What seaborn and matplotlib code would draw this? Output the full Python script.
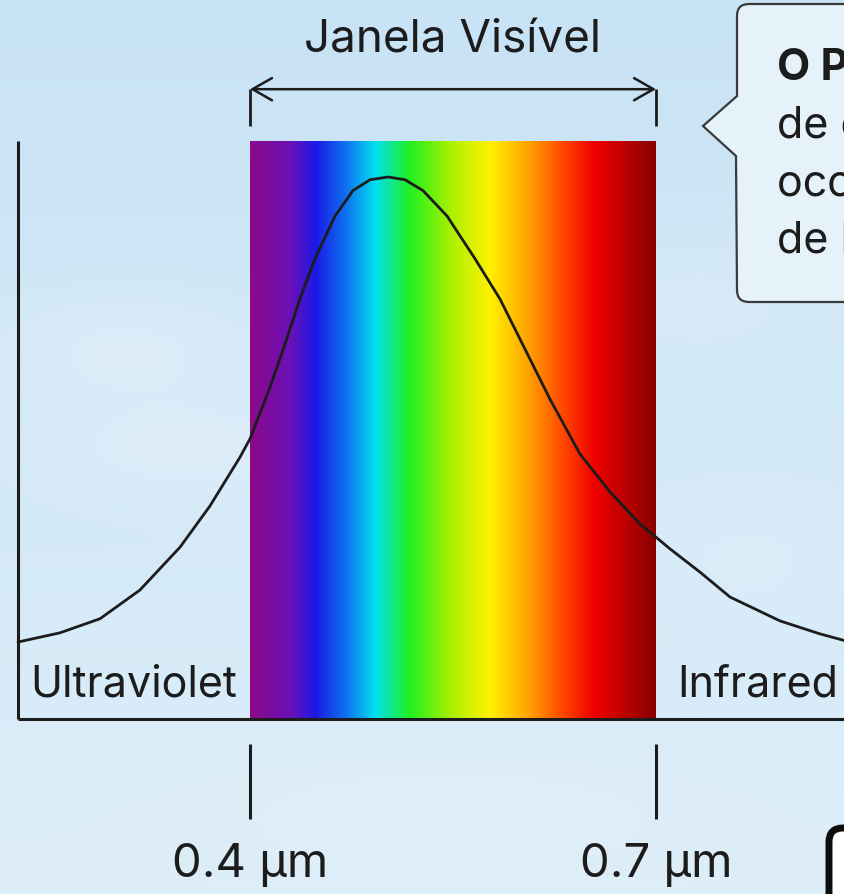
import numpy as np
import matplotlib
matplotlib.use("Agg")
import matplotlib.pyplot as plt
import seaborn as sns
from matplotlib.colors import LinearSegmentedColormap, to_rgb
from matplotlib.patches import PathPatch, FancyBboxPatch
from matplotlib.path import Path

# --- data ---
wavelength_um = [0.2286, 0.2596, 0.2892, 0.3187, 0.3483, 0.3704, 0.3926, 0.4000,
                 0.4148, 0.4259, 0.4369, 0.4480, 0.4628, 0.4761, 0.4887, 0.5020,
                 0.5145, 0.5278, 0.5456, 0.5663, 0.5847, 0.5995, 0.6217, 0.6438,
                 0.6660, 0.6882, 0.7103, 0.7325, 0.7547, 0.7916, 0.8212, 0.8434]
intensity = [0.142, 0.159, 0.185, 0.238, 0.317, 0.393, 0.483, 0.517,
             0.612, 0.692, 0.775, 0.849, 0.928, 0.975, 0.995, 1.000,
             0.995, 0.975, 0.928, 0.849, 0.775, 0.701, 0.590, 0.489,
             0.419, 0.360, 0.314, 0.271, 0.225, 0.181, 0.157, 0.142]

band_edges_um = [0.4, 0.7]
band_labels = ["0.4 µm", "0.7 µm"]
region_labels = ["Ultraviolet", "Infrared"]
window_title = "Janela Visível"
callout_lines = ["O Pico", "de emissão solar", "ocorre na faixa", "de luz visível"]

spectrum_stops_um = [0.400, 0.4296, 0.448, 0.470, 0.4924, 0.518, 0.5478, 0.5773,
                     0.6069, 0.6328, 0.655, 0.700]
spectrum_colors = ["#8a0a8a", "#6a10b8", "#1a1ae6", "#1070f0", "#00e0f0", "#20f020",
                   "#a8f000", "#fff200", "#ffa000", "#ff4400", "#f00000", "#8a0000"]

# --- style ---
sns.set_style("white")
plt.rcParams['font.family'] = ['Inter', 'DejaVu Sans']
ink = "#1c1c1c"

fig = plt.figure(figsize=(8.45, 8.95), dpi=100)

# sky background
bg = fig.add_axes([0, 0, 1, 1])
h, w = 180, 170
yy, xx = np.mgrid[0:h, 0:w]
top = np.array(to_rgb("#c8e3f5"))
bot = np.array(to_rgb("#ddeef9"))
t = (yy / (h - 1))[..., None]
sky = top * (1 - t) + bot * t
clouds = np.zeros((h, w))
for cx, cy, sx, sy, a in [(25, 70, 30, 12, 0.55), (40, 90, 35, 10, 0.5),
                          (140, 60, 30, 14, 0.35), (150, 110, 25, 15, 0.3),
                          (90, 160, 60, 12, 0.25)]:
    clouds += a * np.exp(-(((xx - cx) / sx) ** 2 + ((yy - cy) / sy) ** 2))
clouds = np.clip(clouds, 0, 0.8)[..., None]
sky = sky * (1 - clouds * 0.6) + np.array([0.95, 0.97, 0.99]) * clouds * 0.6
bg.imshow(sky, extent=[0, 1, 0, 1], aspect='auto', interpolation='bicubic')
bg.axis('off')

# main data axes
ax = fig.add_axes([0, 0, 1, 1])
ax.patch.set_alpha(0)
x0, x1 = 0.21527, 0.83966
y0, y1 = -0.3229, 1.3284
spec_top = 1.065

pos = [(s - spectrum_stops_um[0]) / (spectrum_stops_um[-1] - spectrum_stops_um[0])
       for s in spectrum_stops_um]
spec_cmap = LinearSegmentedColormap.from_list("spec", list(zip(pos, spectrum_colors)))
ax.imshow(np.linspace(0, 1, 400)[None, :], cmap=spec_cmap, aspect='auto',
          extent=[band_edges_um[0], band_edges_um[1], 0, spec_top], zorder=1)

sns.lineplot(x=wavelength_um, y=intensity, color=ink, lw=2.0, sort=False, ax=ax, zorder=3)

# axes lines
ax.plot([wavelength_um[0], wavelength_um[0]], [0, spec_top + 0.002], color=ink, lw=2.2,
        solid_capstyle='butt', zorder=4)
ax.plot([wavelength_um[0], x1], [0, 0], color=ink, lw=2.2, solid_capstyle='butt', zorder=4)

ax.text((wavelength_um[0] + band_edges_um[0]) / 2, 0.064, region_labels[0],
        ha='center', va='center', fontsize=31, color=ink)
ax.text(band_edges_um[1] + 0.0155, 0.064, region_labels[1],
        ha='left', va='center', fontsize=31, color=ink)

# visible window bracket
ax.vlines(band_edges_um, 1.094, 1.163, color=ink, lw=2.0)
ax.annotate('', xy=(band_edges_um[0], 1.162), xytext=(band_edges_um[1], 1.162),
            arrowprops=dict(arrowstyle='<->,head_length=0.7,head_width=0.4',
                            color=ink, lw=1.8, shrinkA=0, shrinkB=0, mutation_scale=20))
ax.text(sum(band_edges_um) / 2, 1.232, window_title, ha='center', va='baseline',
        fontsize=33, color=ink)

# tick marks and labels below
ax.vlines(band_edges_um, -0.1845, -0.0461, color=ink, lw=2.2)
for e, lab in zip(band_edges_um, band_labels):
    ax.text(e, -0.268, lab, ha='center', va='center', fontsize=34, color=ink)

ax.set_xlim(x0, x1)
ax.set_ylim(y0, y1)
ax.axis('off')

# overlay in pixel coordinates for the callout boxes
ov = fig.add_axes([0, 0, 1, 1])
ov.patch.set_alpha(0)
ov.set_xlim(0, 845)
ov.set_ylim(895, 0)
ov.axis('off')

r = 12
verts = [(900, 5), (737 + r, 5), (737, 5), (737, 5 + r), (737, 97), (703, 127),
         (736, 157), (737, 303 - r), (737, 303), (737 + r, 303), (900, 303), (900, 5)]
codes = [Path.MOVETO, Path.LINETO, Path.CURVE3, Path.CURVE3, Path.LINETO, Path.LINETO,
         Path.LINETO, Path.LINETO, Path.CURVE3, Path.CURVE3, Path.LINETO, Path.CLOSEPOLY]
ov.add_patch(PathPatch(Path(verts, codes), fc="#e5f2fa", ec="#3a3a3a", lw=1.6, zorder=5))
for i, line in enumerate(callout_lines):
    ov.text(777, 80 + i * 57.5, line, ha='left', va='baseline', fontsize=31, color=ink,
            fontweight='bold' if i == 0 else 'normal', zorder=6)

ov.add_patch(FancyBboxPatch((829, 829), 120, 120, boxstyle="round,pad=0,rounding_size=14",
                            fc="white", ec="#0d0d0d", lw=5, zorder=5))

fig.savefig("out.png", dpi=100)
